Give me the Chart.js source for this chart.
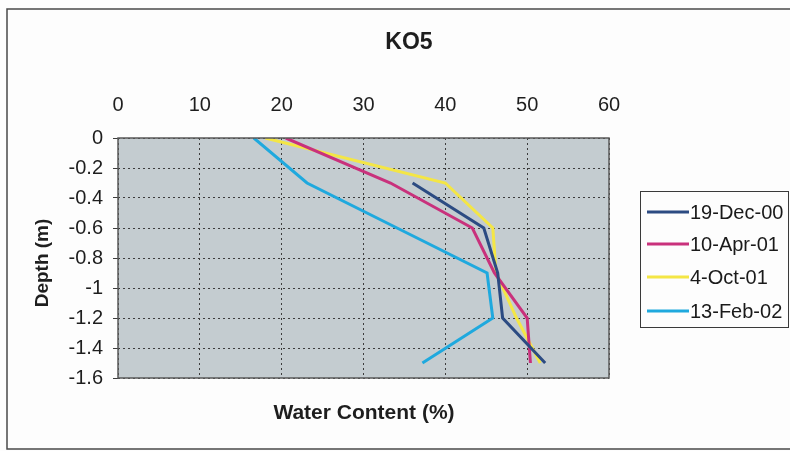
<!DOCTYPE html>
<html>
<head>
<meta charset="utf-8">
<script src="https://cdn.jsdelivr.net/npm/chart.js@4/dist/chart.umd.min.js"></script>
<style>
  html, body { margin: 0; padding: 0; background: #fdfdfd; }
  #wrap { width: 790px; height: 451px; position: relative; }
</style>
</head>
<body>
<div id="wrap"><canvas id="c" width="790" height="451"></canvas></div>
<script>
// Soil water content profile at site KO5
const chartTitle = 'KO5';
const xAxisTitle = 'Water Content (%)';
const yAxisTitle = 'Depth (m)';

const depths = [0, -0.3, -0.6, -0.9, -1.2, -1.5];
const seriesNames = ['19-Dec-00', '10-Apr-01', '4-Oct-01', '13-Feb-02'];
const dec00 = [null, 36.0, 44.7, 46.4, 47.0, 52.2];
const apr01 = [20.5, 33.3, 43.3, 46.0, 50.0, 50.4];
const oct01 = [18.0, 40.0, 45.8, 46.2, 48.7, 51.6];
const feb02 = [16.6, 23.1, 34.1, 45.1, 45.8, 37.2];
const seriesColors = ['#2c4b82', '#c9317c', '#f4e645', '#1fa9de'];

const xTicks = [0, 10, 20, 30, 40, 50, 60];
const yTicks = [0, -0.2, -0.4, -0.6, -0.8, -1, -1.2, -1.4, -1.6];

const FONT = '"Liberation Sans", Arial, sans-serif';

function toPoints(values) {
  const pts = [];
  values.forEach((v, i) => { if (v !== null) pts.push({ x: v, y: depths[i] }); });
  return pts;
}

const allSeries = [dec00, apr01, oct01, feb02];
const datasets = allSeries.map((vals, i) => ({
  label: seriesNames[i],
  data: toPoints(vals),
  showLine: true,
  borderColor: seriesColors[i],
  backgroundColor: seriesColors[i],
  borderWidth: 3,
  pointRadius: 0,
  pointHoverRadius: 0,
  tension: 0,
  fill: false
}));

// page frame, plot background, plot border, titles and legend
const decorations = {
  id: 'decorations',
  beforeDraw(chart) {
    const ctx = chart.ctx;
    const a = chart.chartArea;
    ctx.save();
    ctx.fillStyle = '#fdfdfd';
    ctx.fillRect(0, 0, chart.width, chart.height);
    ctx.strokeStyle = '#4a4a4a';
    ctx.lineWidth = 1.5;
    ctx.beginPath();
    ctx.moveTo(790, 9);
    ctx.lineTo(7, 9);
    ctx.lineTo(7, 449);
    ctx.lineTo(790, 449);
    ctx.stroke();
    ctx.fillStyle = '#c4ccd0';
    ctx.fillRect(a.left, a.top, a.right - a.left, a.bottom - a.top);
    ctx.restore();
  },
  afterDatasetsDraw(chart) {
    const ctx = chart.ctx;
    const a = chart.chartArea;
    ctx.save();
    ctx.strokeStyle = '#5a5a5a';
    ctx.lineWidth = 1.5;
    ctx.strokeRect(a.left, a.top, a.right - a.left, a.bottom - a.top);

    ctx.fillStyle = '#1e1e1e';
    ctx.textAlign = 'center';
    ctx.textBaseline = 'middle';
    ctx.font = 'bold 23px ' + FONT;
    ctx.fillText(chartTitle, 409, 43);

    ctx.font = 'bold 21px ' + FONT;
    ctx.fillText(xAxisTitle, 364, 413);

    ctx.save();
    ctx.translate(43, 263);
    ctx.rotate(-Math.PI / 2);
    ctx.font = 'bold 19px ' + FONT;
    ctx.fillText(yAxisTitle, 0, 0);
    ctx.restore();

    // legend
    ctx.strokeStyle = '#3a3a3a';
    ctx.lineWidth = 1;
    ctx.strokeRect(640.5, 191.5, 148, 136);
    const rows = [212, 244, 277, 311];
    chart.data.datasets.forEach((ds, i) => {
      ctx.strokeStyle = ds.borderColor;
      ctx.lineWidth = 3;
      ctx.beginPath();
      ctx.moveTo(647, rows[i]);
      ctx.lineTo(689, rows[i]);
      ctx.stroke();
      ctx.fillStyle = '#1a1a1a';
      ctx.textAlign = 'left';
      ctx.font = '20px ' + FONT;
      ctx.fillText(ds.label, 690, rows[i] + 1);
    });
    ctx.restore();
  }
};

new Chart(document.getElementById('c'), {
  type: 'scatter',
  data: { datasets },
  options: {
    responsive: false,
    animation: false,
    devicePixelRatio: 1,
    layout: { padding: { left: 0, top: 0, right: 181, bottom: 73 } },
    plugins: {
      legend: { display: false },
      title: { display: false },
      tooltip: { enabled: false }
    },
    scales: {
      x: {
        type: 'linear',
        position: 'top',
        min: xTicks[0],
        max: xTicks[xTicks.length - 1],
        afterFit(scale) { scale.height = 138; },
        afterBuildTicks(scale) { scale.ticks = xTicks.map(v => ({ value: v })); },
        ticks: {
          padding: 21,
          color: '#1e1e1e',
          font: { size: 20, family: FONT },
          maxRotation: 0
        },
        grid: { color: '#3c3c3c', lineWidth: 1, drawTicks: false },
        border: { display: false, dash: [2, 3] }
      },
      y: {
        type: 'linear',
        min: yTicks[yTicks.length - 1],
        max: yTicks[0],
        afterFit(scale) { scale.width = 118; },
        afterBuildTicks(scale) { scale.ticks = yTicks.map(v => ({ value: v })); },
        ticks: {
          padding: 10,
          color: '#1e1e1e',
          font: { size: 20, family: FONT },
          callback: v => String(Number(v.toFixed(1)))
        },
        grid: { color: '#3c3c3c', lineWidth: 1, tickLength: 5, tickColor: '#3c3c3c' },
        border: { display: false, dash: [2, 3] }
      }
    }
  },
  plugins: [decorations]
});
</script>
</body>
</html>
